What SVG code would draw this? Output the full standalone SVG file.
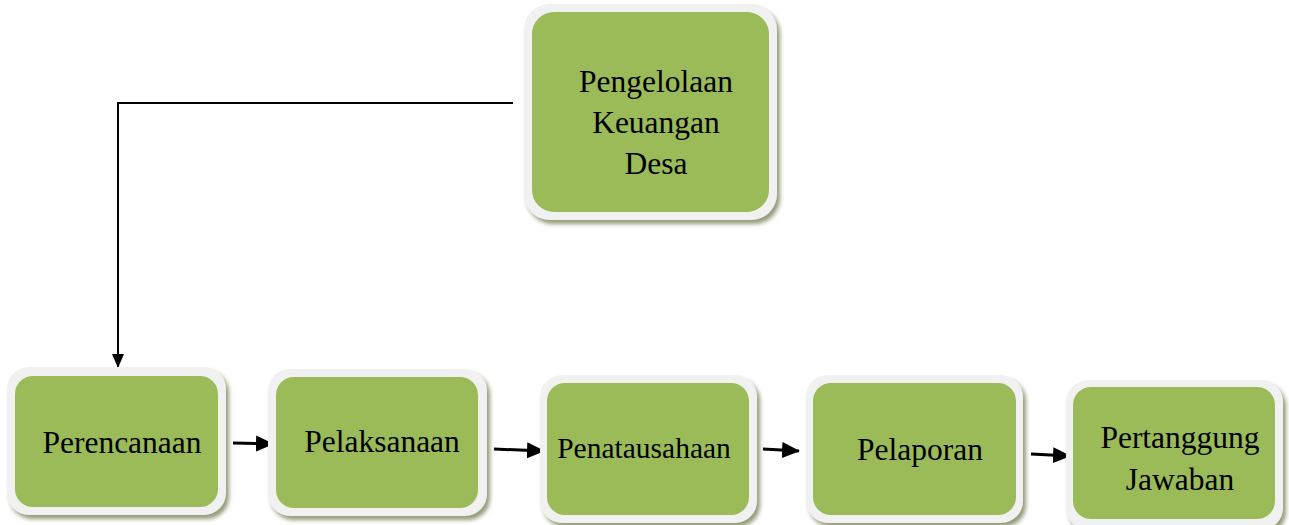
<svg xmlns="http://www.w3.org/2000/svg" width="1289" height="525" viewBox="0 0 1289 525">
<style>
.frame{fill:#f1f1f1;filter:url(#sh)}
.box{fill:#9bbb59}
.t{font-family:"Liberation Serif","Times New Roman",serif;font-size:31.5px;fill:#000;text-anchor:middle}
.c{stroke:#000;stroke-width:2;fill:none}
.a{stroke:#000;stroke-width:3;fill:none}
</style>
<defs>
<filter id="sh" x="-10%" y="-10%" width="125%" height="125%">
<feDropShadow dx="3" dy="4" stdDeviation="2" flood-color="#7f8a60" flood-opacity="0.85"/>
</filter>
<marker id="ah" markerWidth="18" markerHeight="18" refX="17" refY="9" orient="auto" markerUnits="userSpaceOnUse" viewBox="0 0 18 18">
<path d="M0,1 L18,9 L0,17 Z" fill="#000"/>
</marker>
<marker id="ahs" markerWidth="14" markerHeight="14" refX="13" refY="7" orient="auto" markerUnits="userSpaceOnUse" viewBox="0 0 14 14">
<path d="M0,1 L14,7 L0,13 Z" fill="#000"/>
</marker>
</defs>
<rect width="1289" height="525" fill="#fff"/>
<g id="connectors">
<path class="c" d="M513,103 H118 V367" marker-end="url(#ahs)"/>
<path class="a" d="M233,443 L273,444" marker-end="url(#ah)"/>
<path class="a" d="M494,449 L544,451" marker-end="url(#ah)"/>
<path class="a" d="M763,449 L799,451" marker-end="url(#ah)"/>
<path class="a" d="M1031,454 L1070,456" marker-end="url(#ah)"/>
</g>
<g id="n0">
<rect class="frame" x="524" y="4" width="253" height="216" rx="26"/>
<rect class="box" x="532" y="12" width="237" height="200" rx="22"/>
<text class="t" x="656" y="92">Pengelolaan</text>
<text class="t" x="656" y="133">Keuangan</text>
<text class="t" x="656" y="174">Desa</text>
</g>
<g id="n1">
<rect class="frame" x="7" y="367" width="219" height="148" rx="22"/>
<rect class="box" x="15" y="376" width="203" height="131" rx="18"/>
<text class="t" x="122" y="453">Perencanaan</text>
</g>
<g id="n2">
<rect class="frame" x="268" y="369" width="219" height="147" rx="22"/>
<rect class="box" x="276" y="377" width="202" height="131" rx="18"/>
<text class="t" x="382" y="452">Pelaksanaan</text>
</g>
<g id="n3">
<rect class="frame" x="540" y="375" width="217" height="148" rx="22"/>
<rect class="box" x="547" y="383" width="202" height="132" rx="18"/>
<text class="t" x="644" y="458" style="font-size:29.5px">Penatausahaan</text>
</g>
<g id="n4">
<rect class="frame" x="806" y="375" width="217" height="148" rx="22"/>
<rect class="box" x="813" y="383" width="203" height="132" rx="18"/>
<text class="t" x="920" y="460">Pelaporan</text>
</g>
<g id="n5">
<rect class="frame" x="1066" y="380" width="217" height="150" rx="22"/>
<rect class="box" x="1073" y="387" width="202" height="132" rx="18"/>
<text class="t" x="1180" y="448">Pertanggung</text>
<text class="t" x="1180" y="490">Jawaban</text>
</g>
</svg>
